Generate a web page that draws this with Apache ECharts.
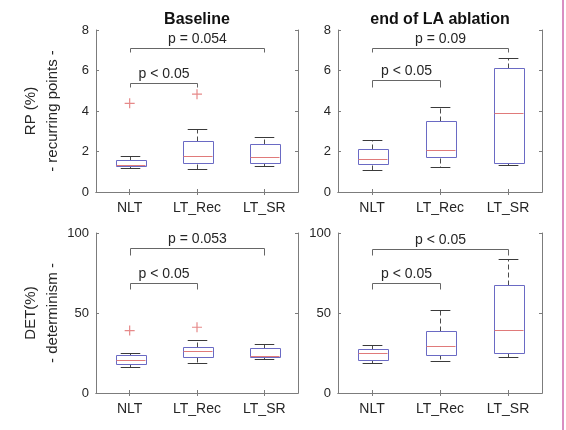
<!DOCTYPE html>
<html>
<head>
<meta charset="utf-8">
<script src="https://cdn.jsdelivr.net/npm/echarts@6/dist/echarts.min.js"></script>
<style>
  html, body { margin: 0; padding: 0; background: #fff; }
  #chart { width: 566px; height: 430px; }
</style>
</head>
<body>
<div id="chart"></div>
<script>
// groups on the x axis
var categories = ['NLT', 'LT_Rec', 'LT_SR'];

// box values per group: [lower whisker, q1, median, q3, upper whisker]
var rpBaseline = [[1.18, 1.26, 1.35, 1.58, 1.79], [1.15, 1.40, 1.79, 2.51, 3.10], [1.26, 1.44, 1.72, 2.38, 2.73]];
var rpEnd = [[1.11, 1.35, 1.63, 2.11, 2.56], [1.22, 1.70, 2.05, 3.50, 4.22], [1.32, 1.47, 3.88, 6.14, 6.63]];
var detBaseline = [[16.2, 18.3, 20.7, 23.9, 24.9], [18.7, 22.2, 26.1, 28.6, 33.0], [21.4, 22.6, 23.0, 28.0, 30.9]];
var detEnd = [[18.9, 20.7, 24.9, 27.8, 29.7], [20.1, 24.1, 29.5, 38.8, 51.9], [22.6, 24.9, 39.4, 67.6, 83.6]];

// outliers: [group index, value]
var rpBaselineOutliers = [[0, 4.38], [1, 4.83]];
var rpEndOutliers = [];
var detBaselineOutliers = [[0, 39.0], [1, 41.1]];
var detEndOutliers = [];

// significance brackets: [from group, to group, bar value, end value, label]
var rpBaselineBrackets = [[0, 1, 5.40, 5.17, 'p < 0.05'], [0, 2, 7.09, 6.93, 'p = 0.054']];
var rpEndBrackets = [[0, 1, 5.51, 5.20, 'p < 0.05'], [0, 2, 7.10, 6.90, 'p = 0.09']];
var detBaselineBrackets = [[0, 1, 68.5, 65.0, 'p < 0.05'], [0, 2, 90.5, 86.5, 'p = 0.053']];
var detEndBrackets = [[0, 1, 68.5, 65.0, 'p < 0.05'], [0, 2, 90.2, 86.5, 'p < 0.05']];

// y axis scales
var rpMin = 0, rpMax = 8, rpStep = 2;
var detMin = 0, detMax = 100, detStep = 50;

var FONT = 'Liberation Sans, Arial, sans-serif';
var AXIS_COLOR = '#7c7c7c';
var TEXT_COLOR = '#262626';

var panels = [
  { grid: { left: 96, top: 30, width: 202, height: 162 }, boxes: rpBaseline, outliers: rpBaselineOutliers, brackets: rpBaselineBrackets, min: rpMin, max: rpMax, step: rpStep, name: 'RP (%)\n- recurring points -' },
  { grid: { left: 338, top: 30, width: 204, height: 162 }, boxes: rpEnd, outliers: rpEndOutliers, brackets: rpEndBrackets, min: rpMin, max: rpMax, step: rpStep, name: '' },
  { grid: { left: 96, top: 233, width: 202, height: 160 }, boxes: detBaseline, outliers: detBaselineOutliers, brackets: detBaselineBrackets, min: detMin, max: detMax, step: detStep, name: 'DET(%)\n- determinism -' },
  { grid: { left: 338, top: 233, width: 204, height: 160 }, boxes: detEnd, outliers: detEndOutliers, brackets: detEndBrackets, min: detMin, max: detMax, step: detStep, name: '' }
];

function px(v) { return Math.round(v) + 0.5; }

function renderBox(params, api) {
  var x = api.value(0);
  var lo = api.coord([x, api.value(1)]);
  var q1 = api.coord([x, api.value(2)]);
  var med = api.coord([x, api.value(3)]);
  var q3 = api.coord([x, api.value(4)]);
  var hi = api.coord([x, api.value(5)]);
  var cx = px(lo[0]);
  var half = api.size([1, 0])[0] * 0.22;
  var cap = half * 0.66;
  var whisker = { stroke: '#4a4a4a', lineWidth: 1, lineDash: [5, 3] };
  var capStyle = { stroke: '#3a3a3a', lineWidth: 1 };
  return {
    type: 'group',
    children: [
      { type: 'line', shape: { x1: cx, y1: px(q3[1]), x2: cx, y2: px(hi[1]) }, style: whisker },
      { type: 'line', shape: { x1: cx, y1: px(q1[1]), x2: cx, y2: px(lo[1]) }, style: whisker },
      { type: 'line', shape: { x1: cx - cap, y1: px(hi[1]), x2: cx + cap, y2: px(hi[1]) }, style: capStyle },
      { type: 'line', shape: { x1: cx - cap, y1: px(lo[1]), x2: cx + cap, y2: px(lo[1]) }, style: capStyle },
      { type: 'rect', shape: { x: px(cx - half), y: px(q3[1]), width: Math.round(half * 2), height: Math.round(q1[1] - q3[1]) },
        style: { fill: '#fff', stroke: '#6a6ac4', lineWidth: 1 } },
      { type: 'line', shape: { x1: px(cx - half), y1: px(med[1]), x2: px(cx + half), y2: px(med[1]) },
        style: { stroke: '#e07a7a', lineWidth: 1 } }
    ]
  };
}

function makeBracketRender(brackets) {
  return function (params, api) {
    var a = api.coord([api.value(0), api.value(2)]);
    var b = api.coord([api.value(1), api.value(2)]);
    var e = api.coord([api.value(0), api.value(3)]);
    var y = px(a[1]);
    var ye = px(e[1]);
    var x1 = px(a[0]), x2 = px(b[0]);
    return {
      type: 'group',
      children: [
        { type: 'polyline', shape: { points: [[x1, ye], [x1, y], [x2, y], [x2, ye]] },
          style: { stroke: '#666', lineWidth: 1, fill: null } },
        { type: 'text', x: (x1 + x2) / 2, y: y - 2,
          style: { text: brackets[params.dataIndex][4], fill: TEXT_COLOR, font: '14px ' + FONT, align: 'center', verticalAlign: 'bottom' } }
      ]
    };
  };
}

var xAxes = [], yAxes = [], grids = [], series = [];

panels.forEach(function (p, g) {
  grids.push(p.grid);
  var tick = { show: true, inside: true, length: 3, alignWithLabel: true, lineStyle: { color: AXIS_COLOR } };
  xAxes.push({
    type: 'category', gridIndex: g, data: categories, position: 'bottom',
    axisLine: { lineStyle: { color: AXIS_COLOR } }, axisTick: tick,
    axisLabel: { color: TEXT_COLOR, fontSize: 14, fontFamily: FONT, margin: 9 },
    splitLine: { show: false }
  });
  xAxes.push({
    type: 'category', gridIndex: g, data: categories, position: 'top',
    axisLine: { lineStyle: { color: AXIS_COLOR } }, axisTick: tick,
    axisLabel: { show: false }, splitLine: { show: false }
  });
  var ytick = { show: true, inside: true, length: 3, lineStyle: { color: AXIS_COLOR } };
  yAxes.push({
    type: 'value', gridIndex: g, min: p.min, max: p.max, interval: p.step, position: 'left',
    axisLine: { show: true, lineStyle: { color: AXIS_COLOR } }, axisTick: ytick,
    axisLabel: { color: TEXT_COLOR, fontSize: 13, fontFamily: FONT, margin: 7 },
    splitLine: { show: false },
    name: p.name, nameLocation: 'middle', nameRotate: 90, nameGap: 32,
    nameTextStyle: { color: TEXT_COLOR, fontSize: 15, fontFamily: FONT, lineHeight: 22 }
  });
  yAxes.push({
    type: 'value', gridIndex: g, min: p.min, max: p.max, interval: p.step, position: 'right',
    axisLine: { show: true, lineStyle: { color: AXIS_COLOR } }, axisTick: ytick,
    axisLabel: { show: false }, splitLine: { show: false }
  });

  series.push({
    type: 'custom', xAxisIndex: 2 * g, yAxisIndex: 2 * g,
    data: p.boxes.map(function (b, i) { return [i].concat(b); }),
    encode: { x: 0, y: [1, 2, 3, 4, 5] },
    renderItem: renderBox, clip: false, silent: true
  });
  series.push({
    type: 'scatter', xAxisIndex: 2 * g, yAxisIndex: 2 * g,
    data: p.outliers,
    symbol: 'path://M4.4,0H5.6V4.4H10V5.6H5.6V10H4.4V5.6H0V4.4H4.4Z', symbolSize: 10,
    itemStyle: { color: '#e06b6b' }, silent: true
  });
  series.push({
    type: 'custom', xAxisIndex: 2 * g, yAxisIndex: 2 * g,
    data: p.brackets.map(function (b) { return [b[0], b[1], b[2], b[3]]; }),
    encode: { x: [0, 1], y: [2, 3] },
    renderItem: makeBracketRender(p.brackets), clip: false, silent: true
  });
});

var chart = echarts.init(document.getElementById('chart'));
chart.setOption({
  backgroundColor: '#fff',
  animation: false,
  grid: grids,
  xAxis: xAxes,
  yAxis: yAxes,
  series: series,
  graphic: [
    { type: 'text', x: 197, y: 20, style: { text: 'Baseline', font: 'bold 16px ' + FONT, fill: '#111', align: 'center', verticalAlign: 'middle' } },
    { type: 'text', x: 440, y: 20, style: { text: 'end of LA ablation', font: 'bold 16px ' + FONT, fill: '#111', align: 'center', verticalAlign: 'middle' } },
    { type: 'rect', left: 562, top: 0, shape: { width: 2, height: 430 }, style: { fill: '#d98fc2' } }
  ]
});
</script>
</body>
</html>
